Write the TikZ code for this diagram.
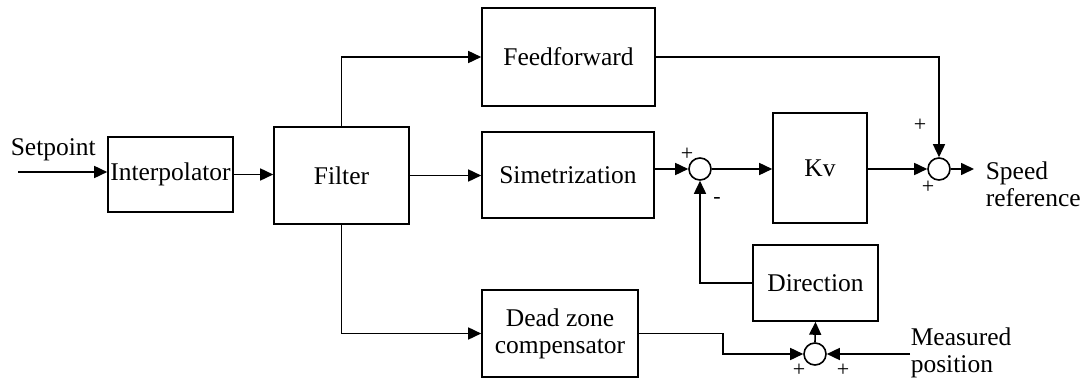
\documentclass[tikz,border=0pt]{standalone}
\usepackage{fontspec}
\setmainfont{Liberation Serif}
\usetikzlibrary{arrows.meta}
\begin{document}
\begin{tikzpicture}[x=1pt, y=-1pt, line width=1.6pt, >={Triangle[length=13pt,width=12pt]},
  font=\fontsize{25.5}{27}\selectfont]
\tikzstyle{block} = [draw, rectangle, inner sep=0pt, align=center];
\tikzstyle{sum} = [draw, circle, fill=white, minimum size=22pt, inner sep=0pt];
\tikzstyle{sign} = [inner sep=0pt, font=\fontsize{22}{22}\selectfont];
\tikzstyle{lbl} = [anchor=west, align=left, inner sep=0pt];
\useasboundingbox (0,0) rectangle (1083,382);
\node[block, minimum width=125pt, minimum height=75pt] (interp) at (170.5, 174.5) {Interpolator};
\node[block, minimum width=135pt, minimum height=97pt] (filter) at (341.5, 175.5) {Filter};
\node[block, minimum width=173pt, minimum height=98pt] (ff) at (568.5, 57) {Feedforward};
\node[block, minimum width=172pt, minimum height=86pt] (sim) at (568, 175) {Simetrization};
\node[block, minimum width=94pt, minimum height=110pt] (kv) at (820, 168) {Kv};
\node[block, minimum width=125pt, minimum height=76pt] (dir) at (815.5, 283) {Direction};
\node[block, minimum width=156pt, minimum height=87pt] (dz) at (560, 333.5) {Dead zone\\compensator};
\node[sum] (s1) at (700, 169) {};
\node[sum] (s2) at (939, 169) {};
\node[sum] (s3) at (815, 354) {};
\node[lbl] (setp) at (10, 150) {Setpoint};
\node[lbl] (speed) at (985, 184) {Speed\\reference};
\node[lbl] (meas) at (910, 353) {Measured\\position};
\node[sign] (p1) at (687, 154) {+};
\node[sign] (m1) at (717, 200) {-};
\node[sign] (p2) at (920, 125) {+};
\node[sign] (p3) at (928, 187) {+};
\node[sign] (p4) at (799, 370) {+};
\node[sign] (p5) at (843, 370) {+};
\coordinate (in) at (18, 172);
\coordinate (out) at (974, 169);
\coordinate (mp) at (910, 354);
\draw[->] (in) -- (in -| interp.west);
\draw[->] (interp.east) -- (interp.east -| filter.west);
\draw[->] (filter.east) -- (filter.east -| sim.west);
\draw[->] (filter.north) |- (ff.west);
\draw[->] (filter.south) |- (dz.west);
\draw[->] (sim.east |- s1) -- (s1.west);
\draw[->] (s1.east) -- (s1.east -| kv.west);
\draw[->] (kv.east |- s2) -- (s2.west);
\draw[->] (ff.east) -| (s2.north);
\draw[->] (s2.east) -- (out);
\draw[->] (dir.west) -| (s1.south);
\draw[->] (s3.north) -- (dir.south);
\draw[->] (dz.east) -- ++(84,0) |- (s3.west);
\draw[->] (mp) -- (s3.east);
\end{tikzpicture}
\end{document}
